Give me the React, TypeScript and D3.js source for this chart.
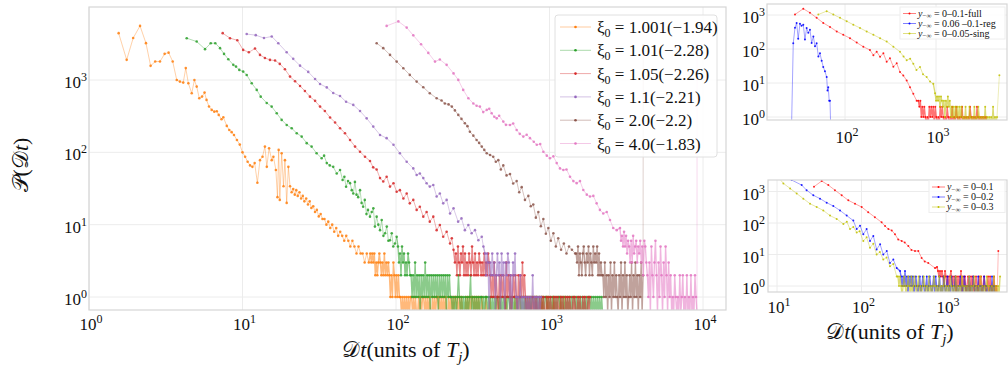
import React from 'react';
import * as d3 from 'd3';

type Pt = [number, number];

// ---------------- main panel data (Dt, P) ----------------
const MAIN_LABELS = ['1.001(−1.94)', '1.01(−2.28)', '1.05(−2.26)', '1.1(−2.21)', '2.0(−2.2)', '4.0(−1.83)'];
const MAIN_COLORS = ['#ff7f0e', '#2ca02c', '#d62728', '#9467bd', '#8c564b', '#e377c2'];

const ORANGE_HEAD: Pt[] = [
  [1.56, 4440], [1.76, 1900], [1.94, 3800], [2.15, 5600], [2.35, 3230], [2.52, 1570], [2.7, 1800], [2.9, 1800],
  [3.11, 2300], [3.3, 2390], [3.51, 1800], [3.73, 1000], [3.91, 950], [4.11, 920], [4.27, 1460], [4.44, 900],
  [4.67, 656], [4.86, 1000], [5.03, 811], [5.23, 560], [5.45, 590], [5.66, 670], [5.83, 531], [6.05, 430],
  [6.3, 386], [6.55, 365], [6.8, 370], [7.0, 329], [7.3, 287], [7.5, 306], [7.9, 232], [8.2, 204], [8.5, 190],
  [8.8, 174], [9.2, 148], [9.6, 128], [10.0, 100], [10.4, 87], [10.8, 74], [11.2, 66], [11.6, 63], [12.0, 71],
  [12.5, 38], [13.0, 78], [13.5, 87], [14.0, 120], [14.4, 63], [14.9, 114], [15.5, 78], [15.9, 87], [16.5, 57],
  [16.9, 24], [17.2, 108], [17.5, 22], [18.0, 97], [18.5, 34], [18.9, 78], [19.4, 20], [19.9, 63], [20.4, 34],
  [20.9, 28], [21.4, 31], [21.9, 26], [22.4, 30], [22.9, 25], [23.5, 28], [24.1, 23], [24.7, 25], [25.3, 21],
  [26, 23], [26.7, 19], [27.4, 21], [28.1, 17], [28.9, 18], [29.7, 15], [30.5, 16], [31.4, 13], [32.3, 14],
  [33.2, 12], [34.2, 12], [35.2, 10], [36.2, 11], [37.3, 9], [38.4, 10], [39.6, 8], [40.8, 9], [42, 7], [43.3, 8],
  [44.6, 7], [46, 6], [47.4, 7], [48.9, 6], [50.4, 5], [52, 6], [53.6, 5], [55.3, 4], [57, 5], [58.8, 4],
  [60.6, 4], [62.5, 3], [64.5, 4], [66.5, 3],
];
const ORANGE_TAIL_RANGE: Pt = [68, 1250];
const ORANGE_TAIL =
  '43434232343232423' + '2321213212121' +
  '1010101010110101001010110101010010101101010101001010101101010100010101011010101' +
  '0010001000100000100010000010001000010000100001000001000010000010000100000100000010001';

const GREEN_HEAD: Pt[] = [
  [4.33, 3785], [5.03, 3400], [5.7, 2670], [6.21, 3228], [6.65, 3228], [7.14, 2755], [7.58, 2296], [8.08, 1940],
  [8.71, 1620], [9.07, 1532], [9.53, 1380], [10.1, 1307], [10.65, 1175], [11.48, 903], [12.38, 730], [13.14, 589],
  [14.38, 482], [15.49, 429], [16.71, 347], [18.0, 281], [19.41, 239], [20.92, 215], [22.55, 184], [24.3, 165],
  [26.2, 134], [28.2, 120], [30.4, 97], [32.8, 83], [34.0, 90], [35.4, 71], [37, 66], [39.0, 63], [41.1, 51],
  [43.2, 57], [44.9, 41.5], [46.1, 46], [47.3, 33.5], [48.7, 40], [50.2, 37.5], [51.5, 30], [52.7, 27], [54.0, 39],
  [55.3, 26], [56.7, 24], [58.3, 30], [59.7, 20], [61.1, 17.7], [62.6, 22], [64.2, 14], [65.7, 16], [67.7, 12.9],
  [69.5, 15], [71.2, 16.8], [72.9, 9.4], [74.8, 12.9], [76.7, 10], [78.7, 8.4], [80.7, 11.6], [82.8, 7],
  [84.9, 7.6], [87.1, 9.4], [89.2, 6], [91.4, 6.1], [93.8, 7.6], [96, 5], [98.5, 5.5], [101, 6.8],
];
const GREEN_TAIL_RANGE: Pt = [103, 2220];
const GREEN_TAIL =
  '5342534232432' + '2121312120212131212021212120212121202121' + '101010121010101010120101010101' +
  '1010110101010101101010101011010101010110101010101011010101010101101010101010110101010101010110101010101010110101010101010';

const RED_HEAD: Pt[] = [
  [7.43, 4440], [8.29, 3785], [9.25, 3540], [10.1, 2608], [11.0, 2420], [12.06, 2720], [13.0, 2224], [14.0, 2018],
  [15.1, 1897], [16.3, 1860], [17.5, 1670], [18.9, 1410], [20.4, 1115], [22.0, 960], [23.7, 828], [25.5, 705],
  [27.5, 589], [29.7, 515], [32.0, 429], [34.4, 372], [37.2, 303], [40.1, 259], [43.2, 215], [46.5, 184],
  [50.2, 148], [54.1, 120], [58.3, 102], [62.8, 87], [67.7, 76], [71, 62], [74.8, 58], [78.7, 44], [82.6, 39.5],
  [86.9, 46], [91.4, 33.6], [96.3, 37.3], [101, 28.5], [106, 30], [111.7, 23], [117.4, 27], [123, 19.7],
  [129.6, 22], [136.3, 16], [143, 17.7], [150.6, 12.9], [158.3, 15], [166, 11], [175, 12.9], [184, 8.4],
  [193, 9.9], [203, 6.8], [213.7, 8], [225, 5.5], [231, 6.5], [237, 4.5],
];
const RED_TAIL_RANGE: Pt = [242, 1836];
const RED_TAIL =
  '34253243524232432532423243232423243' + '21213121021212103121201212102121312' +
  '10101001010100101010010101001010100101001010100101001010010100101';

const PURPLE_HEAD: Pt[] = [
  [10.65, 4315], [12.2, 4170], [13.8, 3800], [15.5, 4000], [17.1, 3228], [19.4, 2420], [21.4, 1960], [23.7, 1580],
  [26.8, 1295], [29.7, 1030], [32.0, 880], [35.4, 790], [39.0, 660], [43.2, 600], [47.3, 500], [52.7, 453],
  [58.3, 372], [64.4, 295], [71.1, 227], [78.7, 174], [86.9, 157], [96.3, 127], [106, 97], [117.4, 74],
  [129.6, 60], [136.3, 48.7], [143, 51], [150.6, 44], [158.3, 37.3], [166, 33.6], [175, 35.4], [184, 24.5],
  [193, 27], [203, 19.7], [213.7, 22], [225, 14.3], [237, 16.8], [254, 11], [267, 12.2], [281, 8.4], [296, 9.9],
  [311, 7.6], [327, 8.4], [344, 6.1], [362, 6.8], [371, 5],
];
const PURPLE_TAIL_RANGE: Pt = [380, 880];
const PURPLE_TAIL = '424303242302423042303243020324' + '1010201010101010201010101';

const BROWN_HEAD: Pt[] = [
  [74.8, 3228], [82.6, 2755], [91.4, 2224], [101, 1797], [111.6, 1456], [123, 1177], [136.3, 950], [150.6, 793],
  [166, 656], [184, 560], [198, 520], [208, 474], [220, 460], [231, 429], [242, 380], [254.6, 329], [267, 290],
  [281, 252], [292, 230], [303, 193], [319, 170], [335, 148], [348, 135], [362, 120], [376, 108], [390, 97],
  [410, 92], [430, 87], [447, 74], [464, 78], [482, 58], [500, 66], [525, 48], [553, 50], [580, 37], [611, 40],
  [635, 28], [659, 33], [692, 22], [728, 25], [755, 18], [784, 19], [815, 12.5], [846, 15], [878, 9.5],
  [912, 12], [947, 7.5], [983, 9], [1020, 6], [1060, 7.6], [1100, 5], [1140, 6.5], [1190, 4.5], [1240, 5.5],
  [1290, 4], [1340, 5], [1400, 4.5], [1470, 4],
];
const BROWN_TAIL_RANGE: Pt = [1490, 4070];
const BROWN_TAIL = '4352432453243524325343524232' + '2131202130213121021302131201213021312021302';
const BROWN_END: Pt[] = [[4080, 3000]];

const PINK_HEAD: Pt[] = [
  [86.9, 5600], [103.6, 6460], [117.4, 5300], [129.6, 4140], [145.6, 3125], [162.3, 2370], [179.5, 1797],
  [193, 1920], [213.7, 1619], [237, 1234], [254.6, 1003], [274, 730], [296, 560], [319, 474], [335, 440],
  [352, 429], [370, 360], [390, 386], [405, 400], [420, 347], [437, 310], [453, 295], [470, 320], [500, 266],
  [520, 240], [553, 239], [580, 250], [611, 204], [640, 180], [675, 165], [710, 175], [746, 157], [790, 140],
  [826, 127], [870, 130], [912, 102], [960, 90], [1007, 83], [1060, 88], [1114, 71], [1170, 60], [1231, 57],
  [1290, 58], [1360, 46], [1430, 40], [1503, 37.5], [1580, 40], [1660, 30.2], [1750, 26], [1836, 24.5],
  [1930, 25], [2028, 19.7], [2130, 16], [2240, 14.3], [2360, 15], [2478, 11.6], [2600, 9], [2740, 8.4],
];
const PINK_TAIL_RANGE: Pt = [2879, 9140];
const PINK_TAIL = '9675857465363745635463526' + '5321305213620315203152031' + '201021010201201020102010210';
const PINK_END: Pt[] = [[9150, 3000]];

// ---------------- top-right panel data ----------------
const TR_LABELS = ['0–0.1-full', '0.06 –0.1-reg', '0–0.05-sing'];
const TR_COLORS = ['#ff0000', '#0000ff', '#bfbf00'];
const TR_RED_HEAD: Pt[] = [
  [28.2, 1035], [34.8, 1530], [41.2, 1163], [48.8, 825], [57.7, 585], [68.4, 445], [81.1, 328], [95.7, 262],
  [113.5, 208], [134.5, 154], [159, 117], [188, 93], [205, 66], [223, 83], [243, 59], [264, 75], [287, 42],
  [312, 53], [340, 30], [370, 38], [402, 21], [437, 16.7], [476, 11.9], [518, 7.5], [563, 4.8], [613, 3],
];
const TR_RED_TAIL_RANGE: Pt = [640, 3630];
const TR_RED_TAIL = '3231212101021212021010212101021010201021010120101010210101021010101010';
const TR_BLUE: Pt[] = [
  [25.9, 0], [27.0, 148], [28.2, 420], [29.4, 585], [30.6, 200], [32.0, 557], [33.3, 480], [34.8, 520],
  [36.3, 190], [37.9, 415], [39.5, 300], [41.2, 369], [43.0, 150], [44.9, 233], [46.8, 120], [48.8, 148],
  [51.0, 60], [53.1, 74.5], [55.4, 45], [57.7, 29.6], [60.2, 22], [62.9, 14.9], [64.2, 6], [65.5, 7.5], [67, 3],
  [68.4, 3], [69.5, 0],
];
const TR_YELLOW_HEAD: Pt[] = [
  [50.9, 1035], [62.9, 1298], [74.4, 1035], [88.1, 825], [104.4, 653], [123.4, 520], [146.2, 415], [173, 328],
  [205, 262], [243, 208], [287, 165], [340, 117], [402, 83], [440, 60], [476, 47], [520, 52], [563, 37],
  [610, 24], [667, 29.6], [720, 18], [790, 14.9], [860, 11], [934, 9.5],
];
const TR_YELLOW_TAIL_RANGE: Pt = [977, 4680];
const TR_YELLOW_TAIL = '5343424323132423121202120212010201021010201021010102010101020101';
const TR_YELLOW_END: Pt[] = [[4970, 17]];

// ---------------- bottom-right panel data ----------------
const BR_LABELS = ['0–0.1', '0–0.2', '0–0.3'];
const BR_COLORS = ['#ff0000', '#0000ff', '#bfbf00'];
const BR_RED_HEAD: Pt[] = [
  [27.4, 1419], [33.8, 2150], [40.5, 1596], [48.5, 1101], [58.3, 759], [69.8, 524], [83.8, 410], [100.5, 321],
  [120, 221], [144, 153], [173, 105], [190, 80], [208, 64], [228, 58], [249, 44], [272, 30], [299, 26.9],
  [325, 24], [358, 18.5], [390, 14], [430, 12.8], [470, 13], [515, 7.8], [560, 6], [617, 5.4], [741, 3.7],
];
const BR_RED_TAIL_RANGE: Pt = [782, 4020];
const BR_RED_TAIL = '4323232132121231212021213021201210212012102120121012021012010';
const BR_RED_END: Pt[] = [[4160, 12.8]];
const BR_BLUE_HEAD: Pt[] = [
  [14.9, 2316], [19.6, 1596], [22.4, 1101], [26.9, 759], [32.3, 594], [38.7, 442], [46.4, 345], [55.7, 250],
  [66.8, 172], [80, 119], [87.7, 64], [96, 82], [105, 44], [115, 64], [126, 26.9], [138, 39], [151, 14.5],
  [166, 21], [181, 10], [199, 12.8], [217, 5.4], [238, 6.9], [261, 3.7],
];
const BR_BLUE_TAIL_RANGE: Pt = [286, 3800];
const BR_BLUE_TAIL = '3212131202121201210120121012012101202101201021012010210120101201021010201021010201010210100102010';
const BR_YELLOW_HEAD: Pt[] = [
  [10.4, 2800], [11.9, 1811], [14.3, 1250], [17.1, 862], [20.5, 594], [24.6, 410], [29.5, 321], [35.3, 250],
  [42.4, 172], [50.9, 135], [61, 93], [67, 110], [73.1, 64], [80, 75], [87.7, 50], [95, 55], [105, 26.9],
  [115, 35], [126, 16.4], [138, 22], [151, 10], [165, 12], [181, 6.9], [198, 8], [217, 4.2], [238, 5], [261, 2],
];
const BR_YELLOW_TAIL_RANGE: Pt = [270, 4360];
const BR_YELLOW_TAIL = '2121012101210201210120101210102010121010201012010102101020101021010102010120101020101021010102010102';

// ---------------- helpers ----------------
type Series = { color: string; head: Pt[]; tail: Pt[]; end: Pt[] };

function tailPts(range?: Pt, counts?: string): Pt[] {
  const pts: Pt[] = [];
  if (range && counts) {
    const n = counts.length;
    const grid = d3.scaleLog().domain([range[0], range[1]]).range([0, n - 1]);
    for (let i = 0; i < n; i++) pts.push([grid.invert(i), Number(counts[i])]);
  }
  return pts;
}

function mk(color: string, head: Pt[], range?: Pt, counts?: string, end?: Pt[]): Series {
  return { color, head, tail: tailPts(range, counts), end: end || [] };
}

const SERIF = '"Liberation Serif", "Times New Roman", serif';

type PanelProps = {
  id: string;
  x0: number; x1: number; y0: number; y1: number;
  xs: d3.ScaleLogarithmic<number, number>;
  ys: d3.ScaleLogarithmic<number, number>;
  xTicks: number[]; yTicks: number[];
  xLabelY: number; yLabelX: number;
  series: Series[];
  r: number; lineOp: number; lineW: number;
};

function Pow10({ x, y, e, anchor }: { x: number; y: number; e: number; anchor: string }) {
  return (
    <text x={x} y={y} textAnchor={anchor as any} fontFamily={SERIF} fontSize={17} fill="#111">
      <tspan>10</tspan>
      <tspan dy={-7} fontSize={12}>{e}</tspan>
    </text>
  );
}

function Panel(p: PanelProps) {
  const { x0, x1, y0, y1, xs, ys } = p;
  const yPos = (v: number) => (v > 0 ? ys(v) : y1 + 4);
  const line = d3.line<Pt>().x((d) => xs(d[0])).y((d) => yPos(d[1]));
  return (
    <g>
      <defs>
        <clipPath id={p.id}>
          <rect x={x0} y={y0} width={x1 - x0} height={y1 - y0} />
        </clipPath>
      </defs>
      <rect x={x0} y={y0} width={x1 - x0} height={y1 - y0} fill="#fff" />
      {p.xTicks.map((t) => (
        <line key={'gx' + t} x1={xs(t)} x2={xs(t)} y1={y0} y2={y1} stroke="#ececec" strokeWidth={1} />
      ))}
      {p.yTicks.map((t) => (
        <line key={'gy' + t} x1={x0} x2={x1} y1={ys(t)} y2={ys(t)} stroke="#ececec" strokeWidth={1} />
      ))}
      <g clipPath={`url(#${p.id})`}>
        {p.series.map((s, i) => {
          const all = s.head.concat(s.tail, s.end);
          const tailLine = s.tail.length ? [s.head[s.head.length - 1], ...s.tail] : [];
          const last = s.tail.length ? s.tail[s.tail.length - 1] : s.head[s.head.length - 1];
          const endLine = s.end.length ? [last, ...s.end] : [];
          return (
            <g key={i}>
              <path d={line(s.head) || ''} fill="none" stroke={s.color} strokeOpacity={p.lineOp} strokeWidth={p.lineW} />
              {tailLine.length > 0 && (
                <path d={line(tailLine) || ''} fill="none" stroke={s.color} strokeOpacity={0.55} strokeWidth={1.35} />
              )}
              {endLine.length > 0 && (
                <path d={line(endLine) || ''} fill="none" stroke={s.color} strokeOpacity={0.35} strokeWidth={0.8} />
              )}
              {all.filter((d) => d[1] > 0).map((d, j) => (
                <circle key={j} cx={xs(d[0])} cy={ys(d[1])} r={p.r} fill={s.color} fillOpacity={0.85} />
              ))}
            </g>
          );
        })}
      </g>
      <rect x={x0} y={y0} width={x1 - x0} height={y1 - y0} fill="none" stroke="#d6d6d6" strokeWidth={1.2} />
      {p.xTicks.map((t) => (
        <Pow10 key={'tx' + t} x={xs(t) + 2} y={p.xLabelY} e={Math.round(Math.log10(t))} anchor="middle" />
      ))}
      {p.yTicks.map((t) => (
        <Pow10 key={'ty' + t} x={p.yLabelX} y={ys(t) + 8} e={Math.round(Math.log10(t))} anchor="end" />
      ))}
    </g>
  );
}

function DtLabel({ x, y }: { x: number; y: number }) {
  return (
    <text x={x} y={y} textAnchor="middle" fontFamily={SERIF} fontSize={22} fill="#111">
      <tspan>𝒟</tspan>
      <tspan fontStyle="italic">t</tspan>
      <tspan>(units of </tspan>
      <tspan fontStyle="italic">T</tspan>
      <tspan fontStyle="italic" fontSize={15} dy={5}>j</tspan>
      <tspan dy={-5}>)</tspan>
    </text>
  );
}

function SmallLegend({ x, y, w, h, labels, colors, step }: { x: number; y: number; w: number; h: number; labels: string[]; colors: string[]; step: number }) {
  return (
    <g>
      <rect x={x} y={y} width={w} height={h} fill="#fff" fillOpacity={0.85} stroke="#eeeeee" />
      {labels.map((lab, i) => {
        const yy = y + 6.5 + i * step;
        return (
          <g key={i}>
            <line x1={x + 3} x2={x + 16} y1={yy} y2={yy} stroke={colors[i]} strokeOpacity={0.5} />
            <circle cx={x + 9.5} cy={yy} r={1} fill={colors[i]} />
            <text x={x + 18} y={yy + 3} fontFamily={SERIF} fontSize={10} fill="#111">
              <tspan fontStyle="italic">y</tspan>
              <tspan fontSize={7} dy={1.5}>−∞</tspan>
              <tspan dy={-1.5}>{' = ' + lab}</tspan>
            </text>
          </g>
        );
      })}
    </g>
  );
}

export default function App() {
  // main panel
  const M = { x0: 89, x1: 726, y0: 7, y1: 310 };
  const mxs = d3.scaleLog().domain([1, 1e4]).range([89, 703]);
  const mys = d3.scaleLog().domain([1, 1000]).range([297, 80]);
  const mainSeries: Series[] = [
    mk(MAIN_COLORS[0], ORANGE_HEAD, ORANGE_TAIL_RANGE, ORANGE_TAIL),
    mk(MAIN_COLORS[1], GREEN_HEAD, GREEN_TAIL_RANGE, GREEN_TAIL),
    mk(MAIN_COLORS[2], RED_HEAD, RED_TAIL_RANGE, RED_TAIL),
    mk(MAIN_COLORS[3], PURPLE_HEAD, PURPLE_TAIL_RANGE, PURPLE_TAIL),
    mk(MAIN_COLORS[4], BROWN_HEAD, BROWN_TAIL_RANGE, BROWN_TAIL, BROWN_END),
    mk(MAIN_COLORS[5], PINK_HEAD, PINK_TAIL_RANGE, PINK_TAIL, PINK_END),
  ];

  // top-right
  const T = { x0: 767, x1: 1007, y0: 4, y1: 120 };
  const txs = d3.scaleLog().domain([100, 1000]).range([845, 936]);
  const tys = d3.scaleLog().domain([1, 1000]).range([117, 15]);
  const trSeries: Series[] = [
    mk(TR_COLORS[0], TR_RED_HEAD, TR_RED_TAIL_RANGE, TR_RED_TAIL),
    mk(TR_COLORS[1], TR_BLUE),
    mk(TR_COLORS[2], TR_YELLOW_HEAD, TR_YELLOW_TAIL_RANGE, TR_YELLOW_TAIL, TR_YELLOW_END),
  ];

  // bottom-right
  const B = { x0: 768, x1: 1007, y0: 180, y1: 292 };
  const bxs = d3.scaleLog().domain([10, 1000]).range([777, 946]);
  const bys = d3.scaleLog().domain([1, 1000]).range([286, 191.5]);
  const brSeries: Series[] = [
    mk(BR_COLORS[0], BR_RED_HEAD, BR_RED_TAIL_RANGE, BR_RED_TAIL, BR_RED_END),
    mk(BR_COLORS[1], BR_BLUE_HEAD, BR_BLUE_TAIL_RANGE, BR_BLUE_TAIL),
    mk(BR_COLORS[2], BR_YELLOW_HEAD, BR_YELLOW_TAIL_RANGE, BR_YELLOW_TAIL),
  ];

  return (
    <svg width={1008} height={370} style={{ position: 'absolute', left: 0, top: 0, background: '#fff' }}>
      <rect x={0} y={0} width={1008} height={370} fill="#fff" />
      <Panel id="clipMain" {...M} xs={mxs} ys={mys} xTicks={[1, 10, 100, 1000, 10000]} yTicks={[1, 10, 100, 1000]}
        xLabelY={330} yLabelX={87} series={mainSeries} r={1.3} lineOp={0.4} lineW={0.9} />
      <Panel id="clipTR" {...T} xs={txs} ys={tys} xTicks={[100, 1000]} yTicks={[1, 10, 100, 1000]}
        xLabelY={143} yLabelX={765} series={trSeries} r={1.0} lineOp={0.45} lineW={0.8} />
      <Panel id="clipBR" {...B} xs={bxs} ys={bys} xTicks={[10, 100, 1000]} yTicks={[1, 10, 100, 1000]}
        xLabelY={313} yLabelX={765} series={brSeries} r={1.0} lineOp={0.45} lineW={0.8} />

      {/* main legend */}
      <g>
        <rect x={555} y={15} width={162} height={142} rx={3} fill="#fff" fillOpacity={0.85} stroke="#e0e0e0" />
        {MAIN_LABELS.map((lab, i) => {
          const y = 27 + i * 23.3;
          return (
            <g key={i}>
              <line x1={560} x2={591} y1={y} y2={y} stroke={MAIN_COLORS[i]} strokeOpacity={0.4} strokeWidth={1} />
              <circle cx={575.5} cy={y} r={1.3} fill={MAIN_COLORS[i]} />
              <text x={597} y={y + 6} fontFamily={SERIF} fontSize={17} fill="#111">
                <tspan>ξ</tspan>
                <tspan fontSize={12} dy={4}>0</tspan>
                <tspan dy={-4}>{' = ' + lab}</tspan>
              </text>
            </g>
          );
        })}
      </g>

      <SmallLegend x={900} y={7} w={105} h={32} labels={TR_LABELS} colors={TR_COLORS} step={10} />
      <SmallLegend x={929} y={180.5} w={76} h={32} labels={BR_LABELS} colors={BR_COLORS} step={10} />

      {/* axis labels */}
      <text transform="translate(28,165) rotate(-90)" textAnchor="middle" fontFamily={SERIF} fontSize={22} fill="#111">
        <tspan>𝒫(𝒟</tspan>
        <tspan fontStyle="italic">t</tspan>
        <tspan>)</tspan>
      </text>
      <DtLabel x={406} y={357} />
      <DtLabel x={890} y={339} />
    </svg>
  );
}
